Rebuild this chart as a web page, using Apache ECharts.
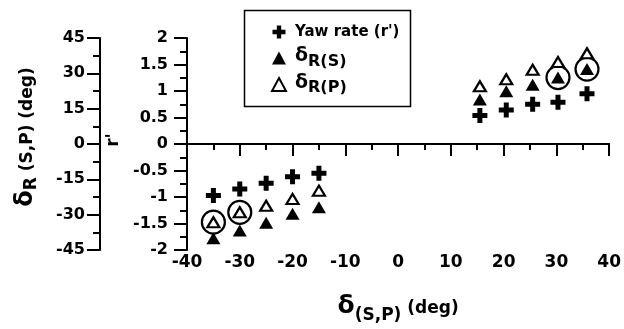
<!DOCTYPE html>
<html>
<head>
<meta charset="utf-8">
<script src="https://cdn.jsdelivr.net/npm/echarts@6/dist/echarts.min.js"></script>
<style>
html,body{margin:0;padding:0;background:#fff;}
#chart{width:624px;height:329px;}
</style>
</head>
<body>
<div id="chart"></div>
<script>
// ---- data ----
const deltaSP = [-35, -30, -25, -20, -15, 15.5, 20.5, 25.5, 30.3, 35.8];      // δ(S,P) deg
const yawRate = [-0.97, -0.85, -0.74, -0.62, -0.55, 0.54, 0.64, 0.75, 0.79, 0.95]; // r'
const deltaRS = [-40, -36.7, -33.4, -29.6, -26.8, 18.9, 22.4, 25.2, 28.2, 31.8]; // δR(S) deg
const deltaRP = [-33.2, -29.0, -26.2, -23.3, -19.8, 24.5, 27.5, 31.5, 34.8, 38.5]; // δR(P) deg
const circledP = [0, 1];   // indices of circled δR(P) points
const circledS = [8, 9];   // indices of circled δR(S) points
const seriesNames = ["Yaw rate (r')", "δR(S)", "δR(P)"];

const xRange = [-40, 40, 10];
const rRange = [-2, 2, 0.5];
const degRange = [-45, 45, 15];

const FONT = 'DejaVu Sans';
const pts = (xs, ys) => xs.map((x, i) => [x, ys[i]]);
const circlePts = circledP.map(i => [deltaSP[i], deltaRP[i]])
  .concat(circledS.map(i => [deltaSP[i], deltaRS[i]]));

const plusPath = 'path://M5,0H10V5H15V10H10V15H5V10H0V5H5Z';

const chart = echarts.init(document.getElementById('chart'), null, {renderer: 'canvas'});
const lbl = {fontFamily: FONT, fontWeight: 'bold', fontSize: 16, color: '#000'};

chart.setOption({
  animation: false,
  backgroundColor: '#fff',
  grid: {left: 187, right: 11, top: 38, bottom: 77, containLabel: false},
  legend: {
    orient: 'vertical',
    left: 266, top: 16,
    itemWidth: 14, itemHeight: 13,
    itemGap: 4,
    data: [
      {name: seriesNames[0], icon: plusPath},
      {name: seriesNames[1], icon: 'triangle'},
      {name: seriesNames[2], icon: 'triangle'}
    ],
    formatter: function (n) {
      if (n === seriesNames[0]) return '{y|' + n + '}{h| }';
      return '{d|δ}{r|' + n.slice(1) + '}';
    },
    textStyle: {
      fontFamily: FONT, fontWeight: 'bold', color: '#000',
      rich: {
        y: {fontFamily: FONT, fontWeight: 'bold', fontSize: 15, color: '#000', padding: [0, 0, 0, 4]},
        h: {fontFamily: FONT, fontSize: 22, color: '#000'},
        d: {fontFamily: FONT, fontWeight: 'bold', fontSize: 19, color: '#000', padding: [0, 0, 3, 4]},
        r: {fontFamily: FONT, fontWeight: 'bold', fontSize: 16, color: '#000', padding: [7, 0, 0, 0]}
      }
    }
  },
  graphic: [{
    type: 'rect', left: 242, top: 8,
    shape: {width: 166, height: 96},
    style: {fill: 'none', stroke: '#000', lineWidth: 1.5}
  }],
  xAxis: [{
    type: 'value', position: 'bottom',
    min: xRange[0], max: xRange[1], interval: xRange[2],
    axisLine: {show: false}, axisTick: {show: false}, splitLine: {show: false},
    axisLabel: Object.assign({}, lbl, {margin: 4, fontSize: 17}),
    name: '{d|δ}{s|(S,P)}{u| (deg)}',
    nameLocation: 'middle', nameGap: 44,
    nameTextStyle: {
      rich: {
        d: {fontFamily: FONT, fontWeight: 'bold', fontSize: 25, color: '#000', padding: [0, 0, 6, 0]},
        s: {fontFamily: FONT, fontWeight: 'bold', fontSize: 17, color: '#000', padding: [12, 0, 0, 0]},
        u: {fontFamily: FONT, fontWeight: 'bold', fontSize: 17, color: '#000', padding: [0, 0, 2, 0]}
      }
    }
  }, {
    type: 'value', position: 'bottom',
    min: xRange[0], max: xRange[1], interval: xRange[2],
    axisLine: {show: true, onZero: true, lineStyle: {color: '#000', width: 2}},
    axisTick: {show: true, inside: false, length: 12, lineStyle: {color: '#000', width: 2}},
    minorTick: {show: true, splitNumber: 2, length: 6, lineStyle: {color: '#000', width: 2}},
    axisLabel: {show: false}, splitLine: {show: false}
  }],
  yAxis: [{
    type: 'value', position: 'left', offset: 0,
    min: rRange[0], max: rRange[1], interval: rRange[2],
    axisLine: {show: true, onZero: false, lineStyle: {color: '#000', width: 2}},
    axisTick: {show: true, length: 13, lineStyle: {color: '#000', width: 2}},
    minorTick: {show: true, splitNumber: 2, length: 7, lineStyle: {color: '#000', width: 2}},
    splitLine: {show: false},
    axisLabel: Object.assign({}, lbl, {margin: 19}),
    name: "r'", nameLocation: 'middle', nameGap: 62, nameRotate: 90,
    nameTextStyle: {fontFamily: FONT, fontWeight: 'bold', fontSize: 17, color: '#000', padding: [0, 0, 0, 8]}
  }, {
    type: 'value', position: 'left', offset: 87,
    min: degRange[0], max: degRange[1], interval: degRange[2],
    axisLine: {show: true, onZero: false, lineStyle: {color: '#000', width: 2}},
    axisTick: {show: true, length: 13, lineStyle: {color: '#000', width: 2}},
    minorTick: {show: true, splitNumber: 2, length: 7, lineStyle: {color: '#000', width: 2}},
    splitLine: {show: false},
    axisLabel: Object.assign({}, lbl, {margin: 15}),
    name: '{d|δ}{r|R}{u| (S,P) (deg)}',
    nameLocation: 'middle', nameGap: 58, nameRotate: 90,
    nameTextStyle: {
      padding: [0, 0, 0, 14],
      rich: {
        d: {fontFamily: FONT, fontWeight: 'bold', fontSize: 24, color: '#000', padding: [0, 0, 4, 0]},
        r: {fontFamily: FONT, fontWeight: 'bold', fontSize: 17, color: '#000', padding: [8, 0, 0, 0]},
        u: {fontFamily: FONT, fontWeight: 'bold', fontSize: 17, color: '#000'}
      }
    }
  }],
  series: [{
    name: seriesNames[0], type: 'scatter', xAxisIndex: 0, yAxisIndex: 0,
    symbol: plusPath, symbolSize: 15,
    itemStyle: {color: '#000', opacity: 1},
    data: pts(deltaSP, yawRate), z: 5
  }, {
    name: seriesNames[1], type: 'scatter', xAxisIndex: 0, yAxisIndex: 1,
    symbol: 'triangle', symbolSize: [14, 12],
    itemStyle: {color: '#000', opacity: 1},
    data: pts(deltaSP, deltaRS), z: 5
  }, {
    name: seriesNames[2], type: 'scatter', xAxisIndex: 0, yAxisIndex: 1,
    symbol: 'triangle', symbolSize: [12, 10],
    itemStyle: {color: '#fff', borderColor: '#000', borderWidth: 2.2, opacity: 1},
    data: pts(deltaSP, deltaRP), z: 5
  }, {
    name: 'circled', type: 'scatter', xAxisIndex: 0, yAxisIndex: 1,
    symbol: 'circle', symbolSize: 23,
    itemStyle: {color: 'rgba(0,0,0,0)', borderColor: '#000', borderWidth: 2.2, opacity: 1},
    data: circlePts, z: 4, silent: true
  }]
});
</script>
</body>
</html>
